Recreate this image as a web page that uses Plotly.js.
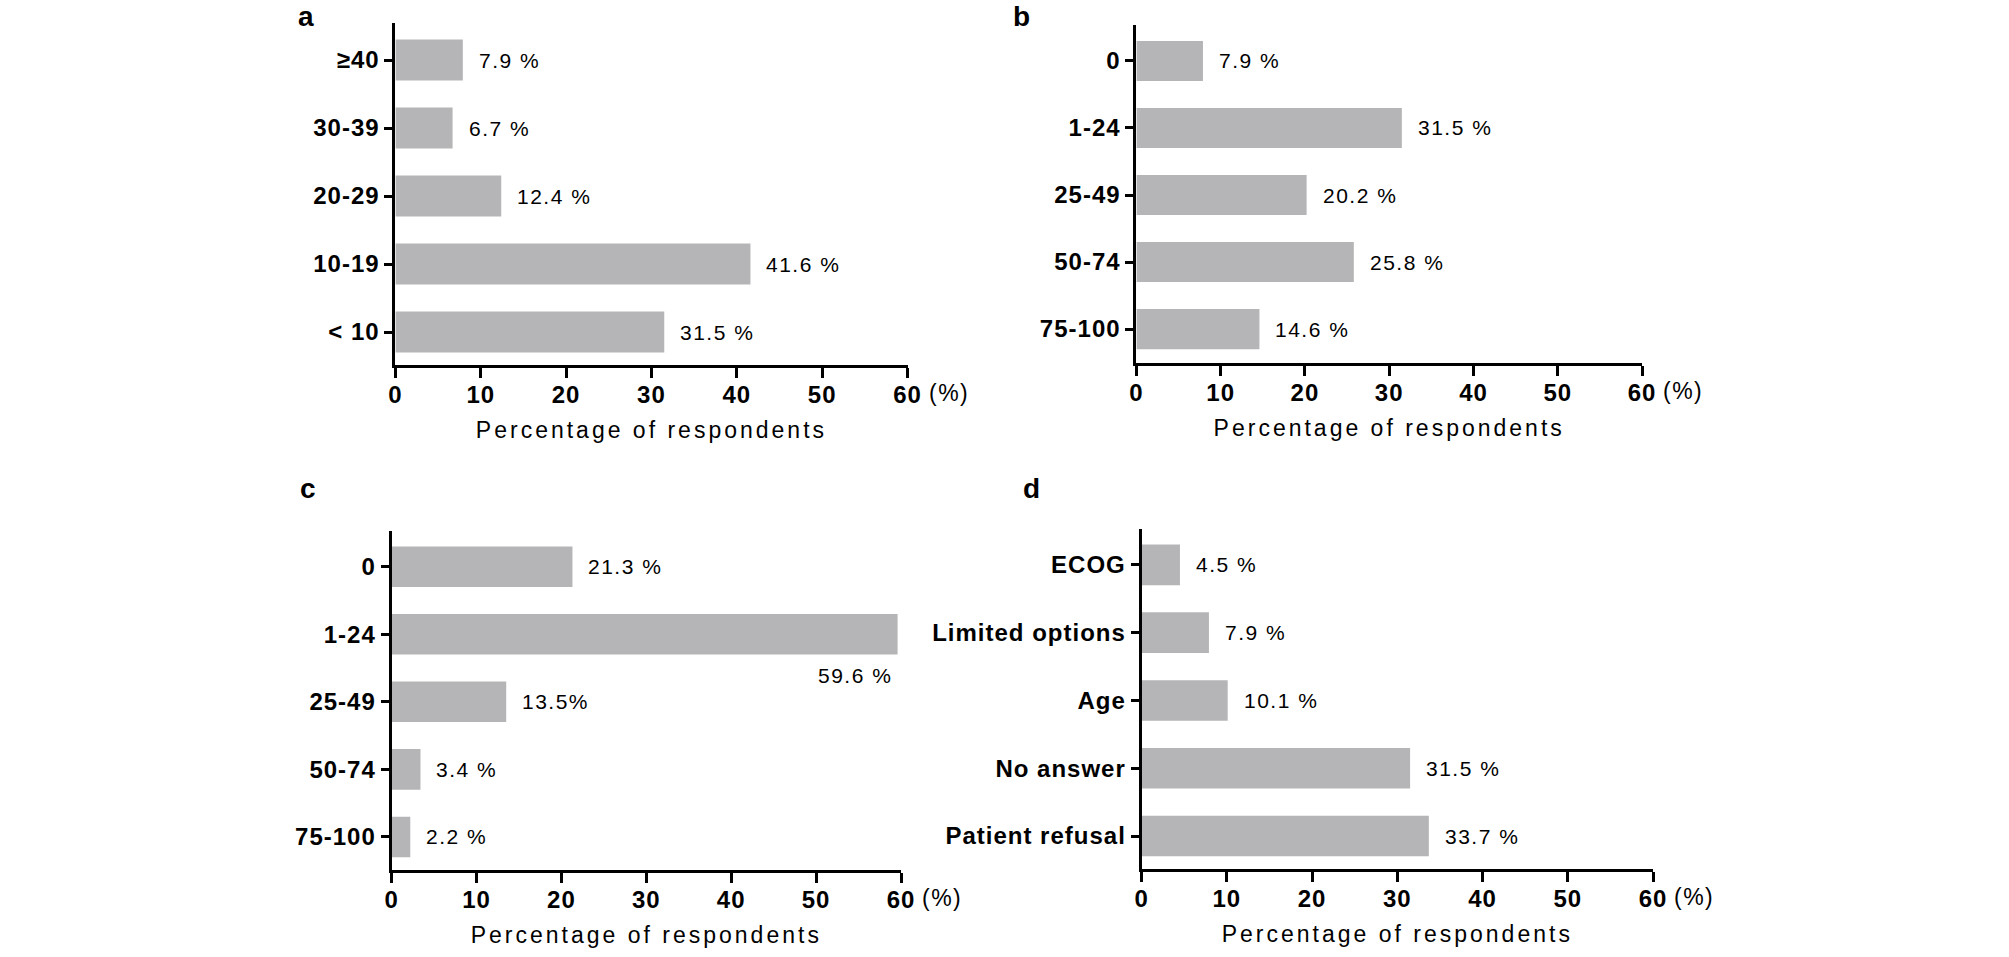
<!DOCTYPE html>
<html>
<head>
<meta charset="utf-8">
<script src="https://cdn.plot.ly/plotly-3.0.1.min.js"></script>
<style>
  html, body { margin: 0; padding: 0; background: #fff; }
  #chart { width: 2009px; height: 957px; }
  .xaxislayer-above text, .yaxislayer-above text,
  .xaxislayer-above .xtick text, .yaxislayer-above .ytick text { letter-spacing: 1px !important; }
  text.xtitle, text.x2title, text.x3title, text.x4title { letter-spacing: 3px; }
  .annotation-text { letter-spacing: 1.5px; }
</style>
</head>
<body>
<div id="chart"></div>
<script>
// ---- data ----
const catsA = ['≥40', '30-39', '20-29', '10-19', '< 10'];
const valsA = [7.9, 6.7, 12.4, 41.6, 31.5];
const textA = ['7.9 %', '6.7 %', '12.4 %', '41.6 %', '31.5 %'];

const catsB = ['0', '1-24', '25-49', '50-74', '75-100'];
const valsB = [7.9, 31.5, 20.2, 25.8, 14.6];
const textB = ['7.9 %', '31.5 %', '20.2 %', '25.8 %', '14.6 %'];

const catsC = ['0', '1-24', '25-49', '50-74', '75-100'];
const valsC = [21.3, 59.6, 13.5, 3.4, 2.2];
const textC = ['21.3 %', '59.6 %', '13.5%', '3.4 %', '2.2 %'];

const catsD = ['ECOG', 'Limited options', 'Age', 'No answer', 'Patient refusal'];
const valsD = [4.5, 7.9, 10.1, 31.5, 33.7];
const textD = ['4.5 %', '7.9 %', '10.1 %', '31.5 %', '33.7 %'];

const panelLetters = ['a', 'b', 'c', 'd'];
const xTickVals = [0, 10, 20, 30, 40, 50, 60];
const xTitle = 'Percentage of respondents';
const unitText = '(%)';

// ---- layout helpers ----
const W = 2009, H = 957;
const FONT = '"Liberation Sans", Arial, Helvetica, sans-serif';
const BAR = '#b5b5b7';
function fx(a, b) { return [a / W, b / W]; }
function fy(top, bottom) { return [1 - bottom / H, 1 - top / H]; }

const panels = [
  { cats: catsA, vals: valsA, text: textA, xd: fx(395.4, 907.5), yd: fy(23, 365), rng: [4.485, -0.544], letter: [306, 0, 'top'] },
  { cats: catsB, vals: valsB, text: textB, xd: fx(1136.4, 1642), yd: fy(25, 363), rng: [4.507, -0.537], letter: [1023, 0, 'top'] },
  { cats: catsC, vals: valsC, text: textC, xd: fx(391.6, 901), yd: fy(531, 870), rng: [4.49, -0.53], letter: [308, 488, 'middle'] },
  { cats: catsD, vals: valsD, text: textD, xd: fx(1141.6, 1653), yd: fy(529, 869), rng: [4.487, -0.53], letter: [1032, 488, 'middle'] }
];

const data = [];
const layout = {
  width: W, height: H,
  margin: { l: 0, r: 0, t: 0, b: 0 },
  paper_bgcolor: '#fff', plot_bgcolor: 'rgba(0,0,0,0)',
  showlegend: false,
  font: { family: FONT, color: '#000' },
  annotations: []
};

panels.forEach((p, i) => {
  const n = i === 0 ? '' : String(i + 1);
  data.push({
    type: 'bar', orientation: 'h',
    x: p.vals, y: p.cats,
    xaxis: 'x' + n, yaxis: 'y' + n,
    width: 0.6,
    marker: { color: BAR, line: { width: 0 } },
    hoverinfo: 'x+y'
  });
  layout['xaxis' + n] = {
    domain: p.xd, anchor: 'y' + n,
    range: [0, 60], tickvals: xTickVals, ticktext: xTickVals.map(String),
    showgrid: false, zeroline: false,
    showline: true, linecolor: '#000', linewidth: 3,
    ticks: 'outside', ticklen: 10, tickwidth: 3, tickcolor: '#000',
    ticklabelstandoff: -4,
    tickfont: { family: FONT, size: 24, weight: 'bold', color: '#000' },
    title: { text: xTitle, font: { family: FONT, size: 23, color: '#000' }, standoff: 16 },
    fixedrange: true
  };
  layout['yaxis' + n] = {
    domain: p.yd, anchor: 'x' + n,
    type: 'category', range: p.rng,
    showgrid: false, zeroline: false,
    showline: true, linecolor: '#000', linewidth: 3,
    ticks: 'outside', ticklen: 8, tickwidth: 3, tickcolor: '#000',
    tickfont: { family: FONT, size: 24, weight: 'bold', color: '#000' },
    fixedrange: true
  };
  // value labels
  p.vals.forEach((v, k) => {
    const below = (i === 2 && k === 1); // 59.6 % sits under its bar
    layout.annotations.push({
      xref: 'x' + n, yref: 'y' + n,
      x: v, y: p.cats[k],
      text: p.text[k], showarrow: false,
      xanchor: below ? 'right' : 'left',
      yanchor: 'middle',
      xshift: below ? -4 : 14,
      yshift: below ? -41 : 0,
      font: { family: FONT, size: 21, color: '#000' }
    });
  });
  // unit "(%)" after the last tick
  layout.annotations.push({
    xref: 'x' + n, yref: 'y' + n + ' domain',
    x: 60, y: 0, xanchor: 'left', yanchor: 'middle',
    xshift: 19, yshift: -28,
    text: unitText, showarrow: false,
    font: { family: FONT, size: 23, color: '#000' }
  });
  // panel letter
  layout.annotations.push({
    xref: 'paper', yref: 'paper',
    x: p.letter[0] / W, y: 1 - p.letter[1] / H,
    xanchor: 'center', yanchor: p.letter[2],
    borderpad: 0,
    text: '<b>' + panelLetters[i] + '</b>', showarrow: false,
    font: { family: FONT, size: 28, color: '#000' }
  });
});

Plotly.newPlot('chart', data, layout, { staticPlot: true, displayModeBar: false });
</script>
</body>
</html>
